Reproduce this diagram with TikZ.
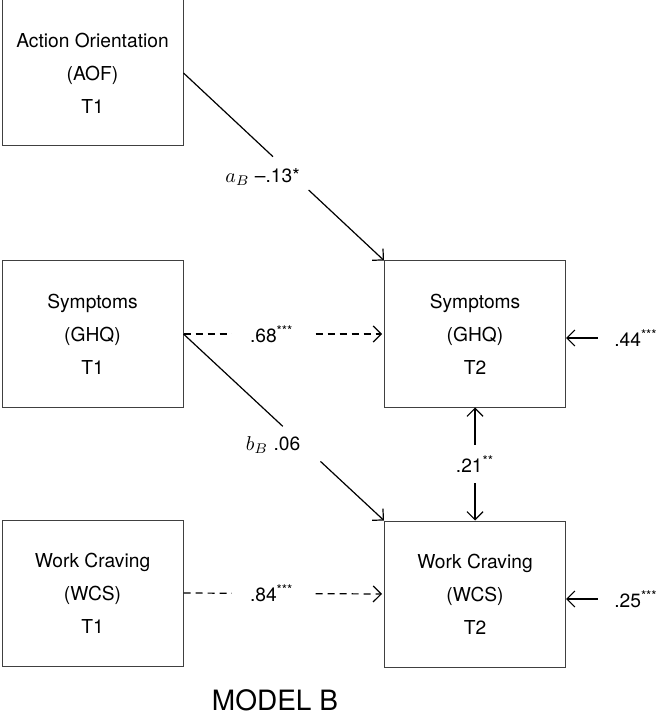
\documentclass[tikz,border=0pt]{standalone}
\usepackage{fontspec}
\setmainfont{TeX Gyre Heros}
\usetikzlibrary{arrows.meta,calc,positioning}

\begin{document}
\begin{tikzpicture}[x=0.5pt, y=-0.5pt,
                    var/.style   ={rectangle, draw=black!75, line width=0.5pt, minimum width=90.5pt, minimum height=73pt,
                                   align=center, font=\fontsize{9.6}{16.5}\selectfont},
                    coef/.style  ={rectangle, inner sep=1pt, font=\fontsize{9.6}{11}\selectfont},
                    link/.style  ={-, draw, line width=0.6pt, color=black},
                    direct/.style={link, -{Straight Barb[length=4pt,width=8pt]}},
                    lag/.style   ={direct, dash pattern=on 3.5pt off 2.5pt},
                    cov/.style   ={link, {Straight Barb[length=4pt,width=8pt]}-{Straight Barb[length=4pt,width=8pt]}}]

      \useasboundingbox (0,0) rectangle (661,716);
      % time 1
      \node[var] at(92.5, 73)  (aof1) {Action Orientation\\(AOF)\\T1};
      \node[var] at(92.5, 334) (ghq1) {Symptoms\\(GHQ)\\T1};
      \node[var] at(92.5, 593) (wcs1) {Work Craving\\(WCS)\\T1};
      % time 2
      \node[var] at(475, 334)  (ghq2) {Symptoms\\(GHQ)\\T2};
      \node[var] at(475, 594)  (wcs2) {Work Craving\\(WCS)\\T2};
      % residuals
      \node[coef] at(636, 338) (ghqerr) {.44\textsuperscript{***}};
      \node[coef] at(636, 599) (wcserr) {.25\textsuperscript{***}};
      % path labels
      \node[coef] at(262.5, 177) (alab) {$a_B$ --.13*};
      \node[coef] at(273, 445)   (blab) {$b_B$ .06};
      \node at(275, 700) (title) {\fontsize{14}{16}\selectfont MODEL B};

      \path[link]   (aof1.east) -- ($(aof1.east)!0.446!(ghq2.north west)$);
      \path[direct] ($(aof1.east)!0.624!(ghq2.north west)$) -- (ghq2.north west);
      \path[link]   (ghq1.east) -- ($(ghq1.east)!0.495!(wcs2.north west)$);
      \path[direct] ($(ghq1.east)!0.683!(wcs2.north west)$) -- (wcs2.north west);
      \path[lag, shorten >=1pt] (ghq1.east) -- (ghq2.west)
            node[coef, pos=0.44, fill=white, inner xsep=9pt] {.68\textsuperscript{***}};
      \path[lag, shorten >=1pt] (wcs1.east) -- (wcs2.west)
            node[coef, pos=0.44, fill=white, inner xsep=9pt] {.84\textsuperscript{***}};
      \path[cov] (ghq2.south) -- (wcs2.north)
            node[coef, midway, fill=white, inner ysep=5pt] {.21\textsuperscript{**}};
      \path[direct, shorten <=7pt] (ghqerr.west) -- (ghqerr.west -| ghq2.east);
      \path[direct, shorten <=7pt] (wcserr.west) -- (wcserr.west -| wcs2.east);
    \end{tikzpicture}
\end{document}
